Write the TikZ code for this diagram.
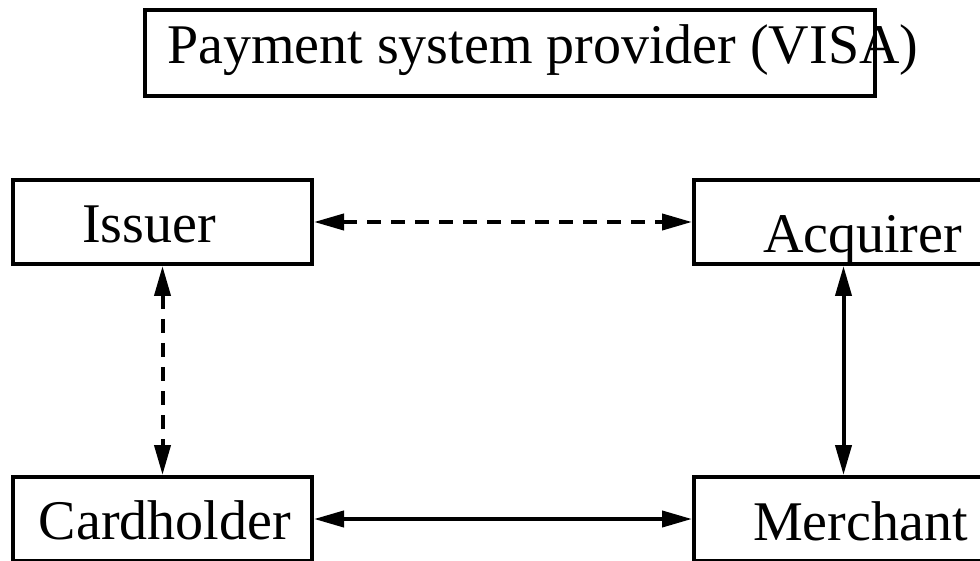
\documentclass[tikz,border=0pt]{standalone}
\usepackage{fontspec}
\setmainfont{Liberation Serif}
\usetikzlibrary{arrows.meta}

\begin{document}
\begin{tikzpicture}[x=0.5pt, y=-0.5pt, line width=2pt,
    every node/.style={font=\fontsize{28}{30}\selectfont},
    party/.style={draw, rectangle, inner sep=0pt, minimum width=149.5pt, minimum height=42pt},
    word/.style={anchor=base west, inner sep=0pt},
    link/.style={{Triangle[length=15pt,width=8pt]}-{Triangle[length=15pt,width=8pt]}},
    dashlink/.style={link, dash pattern=on 7pt off 5pt}]
    \useasboundingbox (0,0) rectangle (980,561);

    % boxes
    \node[party, minimum width=365pt, minimum height=43pt] (visa) at (510,53) {};
    \node[party] (issuer) at (162.5,222) {};
    \node[party] (acquirer) at (843.5,222) {};
    \node[party] (cardholder) at (162.5,519) {};
    \node[party] (merchant) at (843.5,519) {};

    % texts
    \node[word] (visatext) at (165,64) {Payment system provider (VISA)};
    \node[word] (issuertext) at (80,243) {Issuer};
    \node[word] (acquirertext) at (761,253) {Acquirer};
    \node[word] (cardholdertext) at (37,539) {Cardholder};
    \node[word] (merchanttext) at (751,540) {Merchant};

    % links
    \draw[dashlink] (issuer.east) -- (acquirer.west);
    \draw[dashlink] (issuer.south) -- (cardholder.north);
    \draw[link] (acquirer.south) -- (merchant.north);
    \draw[link] (cardholder.east) -- (merchant.west);
\end{tikzpicture}
\end{document}
